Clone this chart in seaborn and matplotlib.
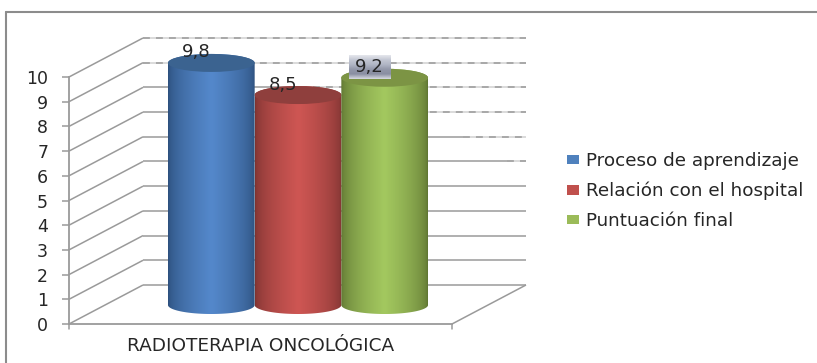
import numpy as np
import pandas as pd
import matplotlib
matplotlib.use("Agg")
import matplotlib.pyplot as plt
from matplotlib.colors import LinearSegmentedColormap
from matplotlib.lines import Line2D
from matplotlib.patches import Ellipse, PathPatch
from matplotlib.path import Path
import seaborn as sns

category = ["RADIOTERAPIA ONCOLÓGICA"]
series = ["Proceso de aprendizaje", "Relación con el hospital", "Puntuación final"]
values = [9.8, 8.5, 9.2]
value_labels = ["9,8", "8,5", "9,2"]
y_ticks = list(range(0, 11))

colors = ["#4f81bd", "#c0504d", "#9bbb59"]
edge_colors = ["#2c4f7c", "#7d3331", "#5f7532"]
mid_colors = ["#5488cb", "#ce5653", "#a3c85f"]
top_colors = ["#3b6390", "#8f3f3d", "#7c9444"]
GRID = "#9a9a9a"
TEXT = "#262626"

W, H = 817, 363
sns.set_theme(style="white")
plt.rcParams["font.family"] = ["DejaVu Sans"]
fig = plt.figure(figsize=(W / 100, H / 100), dpi=100, facecolor="white")
L, R, B, T = 69, 452, 324, 77
ax = fig.add_axes([L / W, 1 - B / H, (R - L) / W, (B - T) / H])
ax.patch.set_alpha(0)

df = pd.DataFrame({"cat": category * 3, "serie": series, "valor": values})
sns.barplot(data=df, x="cat", y="valor", hue="serie", palette=colors, hue_order=series,
            width=0.679, gap=0, ax=ax, legend=False, saturation=1)

ax.set_xlim(-0.5, 0.5)
ax.set_ylim(0, 10)
px_x = 1 / (R - L)
px_y = 10 / (B - T)

# depth of the 3D box
DX, DY = 74 * px_x, 39 * px_y
BAR_DX, BAR_DY = 37.5 * px_x, 19 * px_y
ELL_H = 9 * px_y

# walls
def wall(xs, ys, **kw):
    ax.plot(xs, ys, color=kw.pop("color", GRID), lw=kw.pop("lw", 1.1), clip_on=False,
            zorder=kw.pop("zorder", 1), solid_capstyle="butt", **kw)

dash_from = {5: 507, 6: 463, 7: 300, 8: 300, 9: 143, 10: 143}
for v in y_ticks:
    wall([-0.5, -0.5 + DX], [v, v + DY])
    start = -0.5 + DX
    end = 0.5 + DX
    if v in dash_from:
        split = -0.5 + (dash_from[v] - L) * px_x
        wall([start, split], [v + DY] * 2)
        wall([split, end], [v + DY] * 2, color="#d4d4d4", lw=1.2)
        ax.plot([split, end], [v + DY] * 2, color=GRID, lw=1.1, clip_on=False, zorder=1,
                linestyle=(0, (4.5, 4)))
    else:
        wall([start, end], [v + DY] * 2)
wall([0.5, 0.5 + DX], [0, DY])

# cylinders built on the seaborn bars
bars = list(ax.patches)
t = np.linspace(0, np.pi, 60)
for i, bar in enumerate(bars):
    bar.set_x(bar.get_x() + BAR_DX)
    bar.set_y(bar.get_y() + BAR_DY)
    bar.set_zorder(2 + i)
    x0, w = bar.get_x(), bar.get_width()
    cx = x0 + w / 2
    y0, y1 = bar.get_y(), bar.get_y() + bar.get_height()
    xs = np.concatenate([cx + w / 2 * np.cos(t + np.pi), cx + w / 2 * np.cos(t)])
    ys = np.concatenate([y0 - ELL_H * np.sin(t), y1 + ELL_H * np.sin(t)])
    outline = Path(np.column_stack([xs, ys]), closed=False)
    cmap = LinearSegmentedColormap.from_list(
        "cyl", [(0, edge_colors[i]), (0.5, mid_colors[i]), (1, edge_colors[i])])
    grad = np.concatenate([np.linspace(0, 0.5, 60) ** 0.55 / 0.5 ** 0.55 * 0.5,
                           1 - (np.linspace(0.5, 0, 60) ** 0.55 / 0.5 ** 0.55 * 0.5)])
    im = ax.imshow(grad[None, :], cmap=cmap, vmin=0, vmax=1, aspect="auto",
                   extent=[x0, x0 + w, y0 - ELL_H, y1 + ELL_H], zorder=2 + i)
    clip = PathPatch(outline, transform=ax.transData, facecolor="none", edgecolor="none")
    ax.add_patch(clip)
    im.set_clip_path(clip)
    im.set_clip_box(fig.bbox)
    bar.set_visible(False)
    ax.add_patch(Ellipse((cx, y1), w, 2 * ELL_H, facecolor=top_colors[i], edgecolor="none",
                         zorder=2 + i, clip_on=False))

# value labels
for i, bar in enumerate(bars):
    cx = bar.get_x() + bar.get_width() / 2
    y1 = bar.get_y() + bar.get_height()
    if i == 2:
        bw, bh = 42 * px_x, 24 * px_y
        bx, by = cx - 36 * px_x, y1 - 1.5 * px_y
        cm = LinearSegmentedColormap.from_list(
            "lab", ["#e4e6ec", "#c2c6d2", "#b0b5c4", "#9297a9", "#8a8fa2", "#d4d7df"])
        ax.imshow(np.linspace(0, 1, 40)[:, None], cmap=cm, aspect="auto", origin="upper",
                  extent=[bx, bx + bw, by, by + bh], zorder=7, clip_on=False)
    ax.annotate(value_labels[i], xy=(cx, y1), xytext=(-15 * 0.72, 10.5 * 0.72),
                textcoords="offset points", ha="center", va="center",
                fontsize=13, color=TEXT, zorder=8, annotation_clip=False)
ax.set_xlim(-0.5, 0.5)
ax.set_ylim(0, 10)

# axes
for s in ["top", "right"]:
    ax.spines[s].set_visible(False)
for s in ["left", "bottom"]:
    ax.spines[s].set_color(GRID)
    ax.spines[s].set_linewidth(1.3)
ax.set_yticks(y_ticks)
ax.set_yticklabels([str(v) for v in y_ticks])
ax.set_xlabel("")
ax.set_ylabel("")
ax.tick_params(axis="y", length=5, width=1.1, color=GRID, labelsize=12.5, labelcolor=TEXT, pad=10, left=True)
ax.tick_params(axis="x", length=0, labelsize=13.3, labelcolor=TEXT, pad=9.7)
ax.set_xticks([0])
ax.set_xticklabels(category)
for xt in [-0.5, 0.5]:
    ax.plot([xt, xt], [0, -5 * px_y], color=GRID, lw=1.1, clip_on=False, zorder=1)

# legend
handles = [plt.Rectangle((0, 0), 1, 1, facecolor=c, edgecolor="none") for c in colors]
fig.legend(handles, series, loc="center left", bbox_to_anchor=(567 / W, 1 - 191 / H),
           frameon=False, fontsize=13.2, labelcolor=TEXT, labelspacing=0.64,
           handlelength=0.67, handleheight=0.44, handletextpad=0.39, borderpad=0, borderaxespad=0)

# outer frame (top and left only)
for xs, ys in [((6, W), (12, 12)), ((6, 6), (12, H))]:
    fig.add_artist(Line2D(np.array(xs) / W, 1 - np.array(ys) / H, color="#8c8c8c", lw=1.5))

fig.savefig("out.png", dpi=100, facecolor="white")
